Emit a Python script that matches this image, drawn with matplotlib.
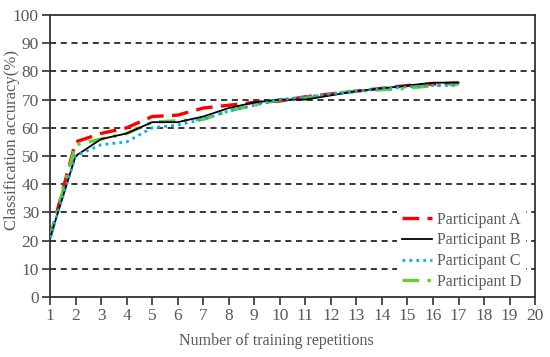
import matplotlib
matplotlib.use("Agg")
import matplotlib.pyplot as plt

# ---- data ----
reps = list(range(1, 18))
acc_a = [21, 55, 58, 60, 64, 64.5, 67, 68, 69, 69.5, 71, 72, 73, 74, 75, 75.5, 76]
acc_b = [21, 50, 56, 58, 62, 62, 64, 67, 69, 70, 70, 71.5, 73, 74, 75, 76, 76]
acc_c = [21, 50, 54, 55, 60, 61, 63, 66, 68, 70, 71, 72, 73, 74, 74.5, 75, 75]
acc_d = [21, 54, 56, 58, 62, 62.5, 63, 66, 68, 70, 70.5, 72, 73, 73.5, 74, 75, 75.5]
labels = ["Participant A", "Participant B", "Participant C", "Participant D"]

xticks = list(range(1, 21))
yticks = list(range(0, 101, 10))

plt.rcParams["font.family"] = ["Liberation Serif", "DejaVu Serif"]
txt = "#595959"

fig = plt.figure(figsize=(5.5, 3.57), dpi=100)
ax = fig.add_axes([0.091, 0.168, 0.882, 0.79])

# grid lines at 10..90
for y in yticks[1:-1]:
    ax.axhline(y, color="black", lw=1.1, ls=(0, (4, 3)), zorder=1)

ax.plot(reps, acc_a, color="red", lw=2.4, ls=(0, (5, 2.5)), label=labels[0], zorder=3)
ax.plot(reps, acc_b, color="black", lw=1.3, ls="-", label=labels[1], zorder=4)
ax.plot(reps, acc_c, color="#00b0f0", lw=2.0, ls=(0, (1, 1.5)), label=labels[2], zorder=5)
ax.plot(reps, acc_d, color="#66cc33", lw=2.4, ls=(0, (5, 2.5, 1, 2.5)), label=labels[3], zorder=3)

ax.set_xlim(1, 20)
ax.set_ylim(0, 100)
ax.set_xticks(xticks)
ax.set_yticks(yticks)
ax.tick_params(direction="out", length=6, width=1.2, colors="#333333",
               labelcolor=txt, labelsize=12.5, pad=2)
for s in ax.spines.values():
    s.set_color("#333333")
    s.set_linewidth(1.3)

ax.set_xlabel("Number of training repetitions", color=txt, fontsize=11.5)
ax.xaxis.set_label_coords(0.466, -0.128)
ax.set_ylabel("Classification accuracy(%)", color=txt, fontsize=12)
ax.yaxis.set_label_coords(-0.061, 0.558)

leg = ax.legend(loc="upper left", bbox_to_anchor=(0.715, 0.32), frameon=True,
                facecolor="white", edgecolor="none", framealpha=1,
                fontsize=11.5, handlelength=1.9, labelspacing=0.3,
                borderpad=0.3, handletextpad=0.3, borderaxespad=0)
leg.get_frame().set_boxstyle("square", pad=0)
for t in leg.get_texts():
    t.set_color(txt)
leg.set_zorder(6)

fig.savefig("out.png", dpi=100)
